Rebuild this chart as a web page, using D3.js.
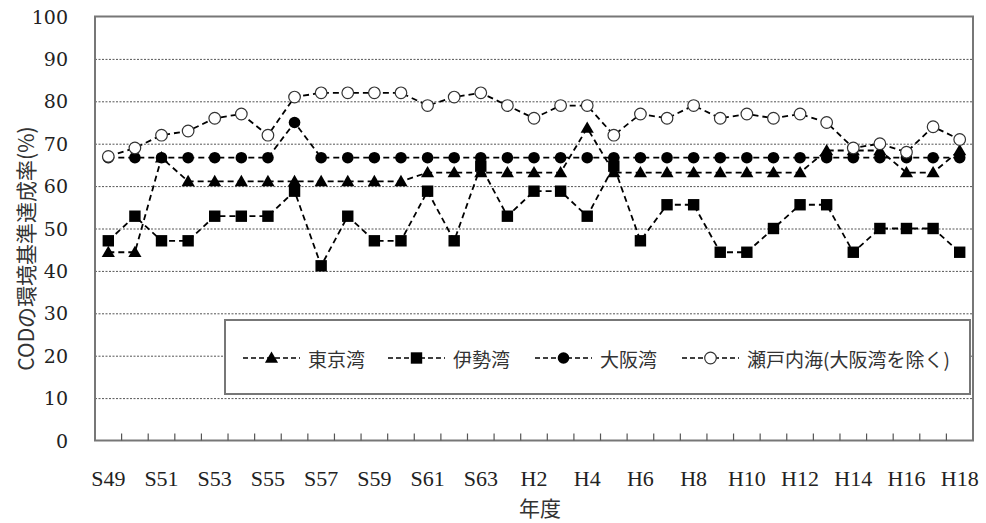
<!DOCTYPE html>
<html>
<head>
<meta charset="utf-8">
<script src="https://cdn.jsdelivr.net/npm/d3@7"></script>
<style>
  body { margin: 0; background: #fff; }
  .grid line { stroke: #555; stroke-dasharray: 2,1.5; stroke-width: 1; }
  .grid path { display: none; }
  .series { fill: none; stroke: #000; stroke-width: 1.8; stroke-dasharray: 6,4; }
  .num { font-family: "DejaVu Serif"; font-size: 19px; fill: #222; }
  .num2 { font-family: "Liberation Serif"; font-size: 22px; fill: #222; }
</style>
</head>
<body>
<svg id="chart" width="986" height="523"></svg>
<script>
// fiscal years, Showa 49 .. Heisei 18
const years = ["S49","S50","S51","S52","S53","S54","S55","S56","S57","S58","S59","S60","S61","S62","S63",
  "H1","H2","H3","H4","H5","H6","H7","H8","H9","H10","H11","H12","H13","H14","H15","H16","H17","H18"];

const tokyo = [44.4,44.4,66.7,61.1,61.1,61.1,61.1,61.1,61.1,61.1,61.1,61.1,63.2,63.2,63.2,
  63.2,63.2,63.2,73.7,63.2,63.2,63.2,63.2,63.2,63.2,63.2,63.2,68.4,68.4,68.4,63.2,63.2,68.4];
const ise = [47.1,52.9,47.1,47.1,52.9,52.9,52.9,58.8,41.2,52.9,47.1,47.1,58.8,47.1,64.7,
  52.9,58.8,58.8,52.9,64.7,47.1,55.6,55.6,44.4,44.4,50,55.6,55.6,44.4,50,50,50,44.4];
const osaka = [66.7,66.7,66.7,66.7,66.7,66.7,66.7,75,66.7,66.7,66.7,66.7,66.7,66.7,66.7,
  66.7,66.7,66.7,66.7,66.7,66.7,66.7,66.7,66.7,66.7,66.7,66.7,66.7,66.7,66.7,66.7,66.7,66.7];
const seto = [67,69,72,73,76,77,72,81,82,82,82,82,79,81,82,
  79,76,79,79,72,77,76,79,76,77,76,77,75,69,70,68,74,71];

const seriesNames = ["東京湾", "伊勢湾", "大阪湾", "瀬戸内海(大阪湾を除く)"];
const yTicks = [0,10,20,30,40,50,60,70,80,90,100];

const cjkFont = "'Noto Sans CJK JP', 'Noto Sans', sans-serif";

const svg = d3.select("#chart"),
  pLeft = 95, pRight = 973, pTop = 16.5, pBottom = 440.5;

const x = d3.scaleBand().domain(years).range([pLeft, pRight]).padding(0);
const y = d3.scaleLinear().domain([0, 100]).range([pBottom, pTop]);
const cx = d => x(d) + x.bandwidth() / 2;

// gridlines
svg.append("g")
  .attr("class", "grid")
  .attr("transform", `translate(${pLeft},0)`)
  .call(d3.axisLeft(y).tickValues(yTicks.filter(v => v > 0 && v < 100)).tickSize(-(pRight - pLeft)).tickFormat(""));

// frame
svg.append("rect")
  .attr("x", pLeft).attr("y", pTop)
  .attr("width", pRight - pLeft).attr("height", pBottom - pTop)
  .attr("fill", "none").attr("stroke", "#777").attr("stroke-width", 2);

// x ticks at category boundaries, pointing inward
svg.append("g").selectAll("line")
  .data(years.slice(1))
  .enter().append("line")
    .attr("x1", d => x(d)).attr("x2", d => x(d))
    .attr("y1", pBottom).attr("y2", pBottom - 7)
    .attr("stroke", "#555").attr("stroke-width", 1.2);

// y tick labels
svg.append("g").selectAll("text")
  .data(yTicks)
  .enter().append("text")
    .attr("class", "num")
    .attr("x", 68)
    .attr("y", d => y(d))
    .attr("text-anchor", "end")
    .attr("dominant-baseline", "central")
    .text(d => d);

// x tick labels, every other year
svg.append("g").selectAll("text")
  .data(years.filter((d, i) => i % 2 === 0))
  .enter().append("text")
    .attr("class", "num2")
    .attr("x", d => cx(d))
    .attr("y", 486)
    .attr("text-anchor", "middle")
    .text(d => d);

// axis titles
svg.append("text")
  .attr("transform", `translate(34,${(pTop + pBottom) / 2 + 20}) rotate(-90)`)
  .attr("text-anchor", "middle")
  .style("font-family", cjkFont)
  .style("font-size", "21px")
  .style("fill", "#333")
  .text("CODの環境基準達成率(%)");

svg.append("text")
  .attr("x", 540).attr("y", 516)
  .attr("text-anchor", "middle")
  .style("font-family", cjkFont)
  .style("font-size", "21px")
  .style("fill", "#333")
  .text("年度");

// markers
const tri = d3.symbol().type(d3.symbolTriangle).size(75);
const sq = d3.symbol().type(d3.symbolSquare).size(130);

function drawMarker(g, kind, px, py) {
  if (kind === 0) {
    g.append("path").attr("d", tri).attr("transform", `translate(${px},${py + 1})`).attr("fill", "#000");
  } else if (kind === 1) {
    g.append("path").attr("d", sq).attr("transform", `translate(${px},${py})`).attr("fill", "#000");
  } else if (kind === 2) {
    g.append("circle").attr("cx", px).attr("cy", py).attr("r", 5.8).attr("fill", "#000");
  } else {
    g.append("circle").attr("cx", px).attr("cy", py).attr("r", 5.8)
      .attr("fill", "#fff").attr("stroke", "#333").attr("stroke-width", 1.2);
  }
}

const line = d3.line().x((d, i) => cx(years[i])).y(d => y(d));
const allSeries = [tokyo, ise, osaka, seto];

allSeries.forEach((vals, k) => {
  const g = svg.append("g");
  g.append("path").datum(vals).attr("class", "series").attr("d", line);
  vals.forEach((v, i) => drawMarker(g, k, cx(years[i]), y(v)));
});

// legend
svg.append("rect")
  .attr("x", 225).attr("y", 320).attr("width", 745).attr("height", 74)
  .attr("fill", "#fff").attr("stroke", "#777").attr("stroke-width", 2);

const legendX = [243, 388, 535, 682];
seriesNames.forEach((name, k) => {
  const g = svg.append("g"), sx = legendX[k], ly = 358;
  g.append("line")
    .attr("x1", sx).attr("x2", sx + 57).attr("y1", ly).attr("y2", ly)
    .attr("stroke", "#000").attr("stroke-width", 1.5).attr("stroke-dasharray", "5,3");
  drawMarker(g, k, sx + 28.5, ly);
  g.append("text")
    .attr("x", sx + 65).attr("y", ly)
    .attr("dominant-baseline", "central")
    .style("font-family", cjkFont)
    .style("font-size", "19px")
    .style("fill", "#333")
    .text(name);
});
</script>
</body>
</html>
